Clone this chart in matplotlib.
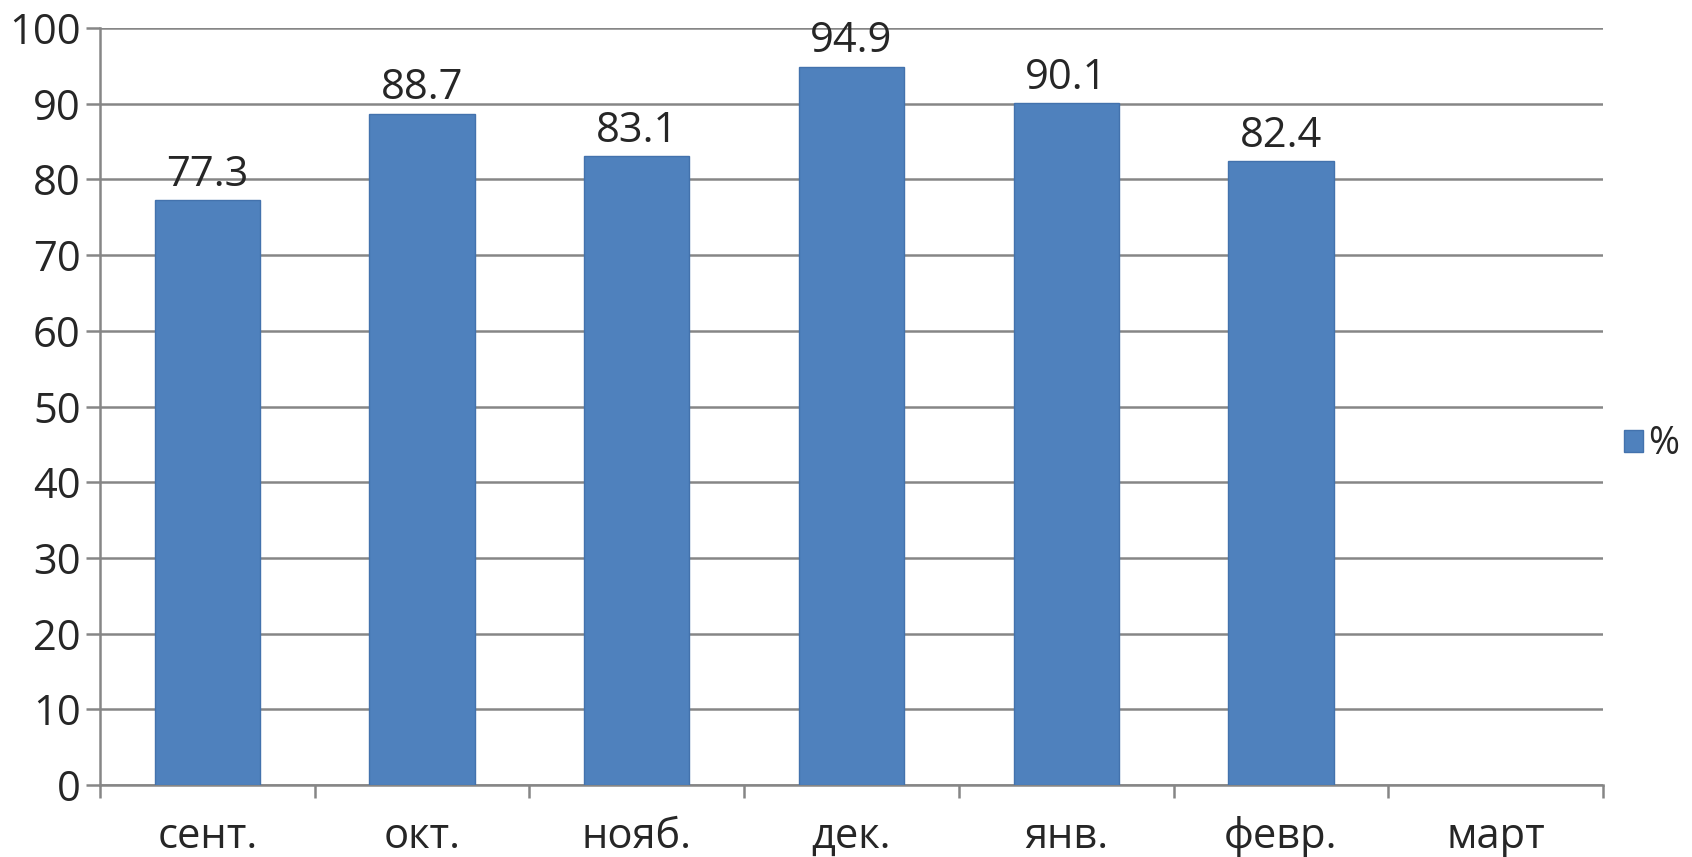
import numpy as np
import matplotlib.pyplot as plt

plt.rcParams['font.family'] = ['Open Sans', 'DejaVu Sans']

months = ['сент.', 'окт.', 'нояб.', 'дек.', 'янв.', 'февр.', 'март']
values = [77.3, 88.7, 83.1, 94.9, 90.1, 82.4, np.nan]  # март пустой
series = '%'

grid_c = '#868686'
text_c = '#262626'

fig = plt.figure(figsize=(16.92, 8.57), dpi=100)
ax = fig.add_axes([0.0591, 0.084, 0.8883, 0.8833])

x = np.arange(len(months))
bars = ax.bar(x, values, width=0.49, color='#4F81BD', edgecolor='#4372AD',
              linewidth=1.0, label=series, zorder=3)

for xi, v in zip(x, values):
    if not np.isnan(v):
        ax.annotate(f'{v:.1f}', (xi, v), xytext=(0, 3), textcoords='offset points',
                    ha='center', va='bottom', fontsize=30, color=text_c, zorder=4)

ax.set_xlim(-0.5, len(months) - 0.5)
ax.set_ylim(0, 100)
ax.set_yticks(np.arange(0, 101, 10))
ax.set_xticks(x)
ax.set_xticklabels(months)
ax.set_xticks(np.arange(-0.5, len(months)), minor=True)

ax.grid(axis='y', color=grid_c, linewidth=1.8, zorder=0)
for s in ['top', 'right']:
    ax.spines[s].set_visible(False)
for s in ['left', 'bottom']:
    ax.spines[s].set_color(grid_c)
    ax.spines[s].set_linewidth(1.8)

ax.tick_params(axis='x', which='major', length=0, pad=22, labelsize=30, labelcolor=text_c)
ax.tick_params(axis='x', which='minor', length=9, width=1.8, color=grid_c)
ax.tick_params(axis='y', length=10, width=1.8, color=grid_c, pad=4,
               labelsize=30, labelcolor=text_c)

ax.legend(loc='center left', bbox_to_anchor=(1.014, 0.45), frameon=False,
          fontsize=27, handlelength=0.5, handleheight=0.5, handletextpad=0.15,
          borderaxespad=0, borderpad=0, labelcolor=text_c)

fig.savefig('out.png', dpi=100)
